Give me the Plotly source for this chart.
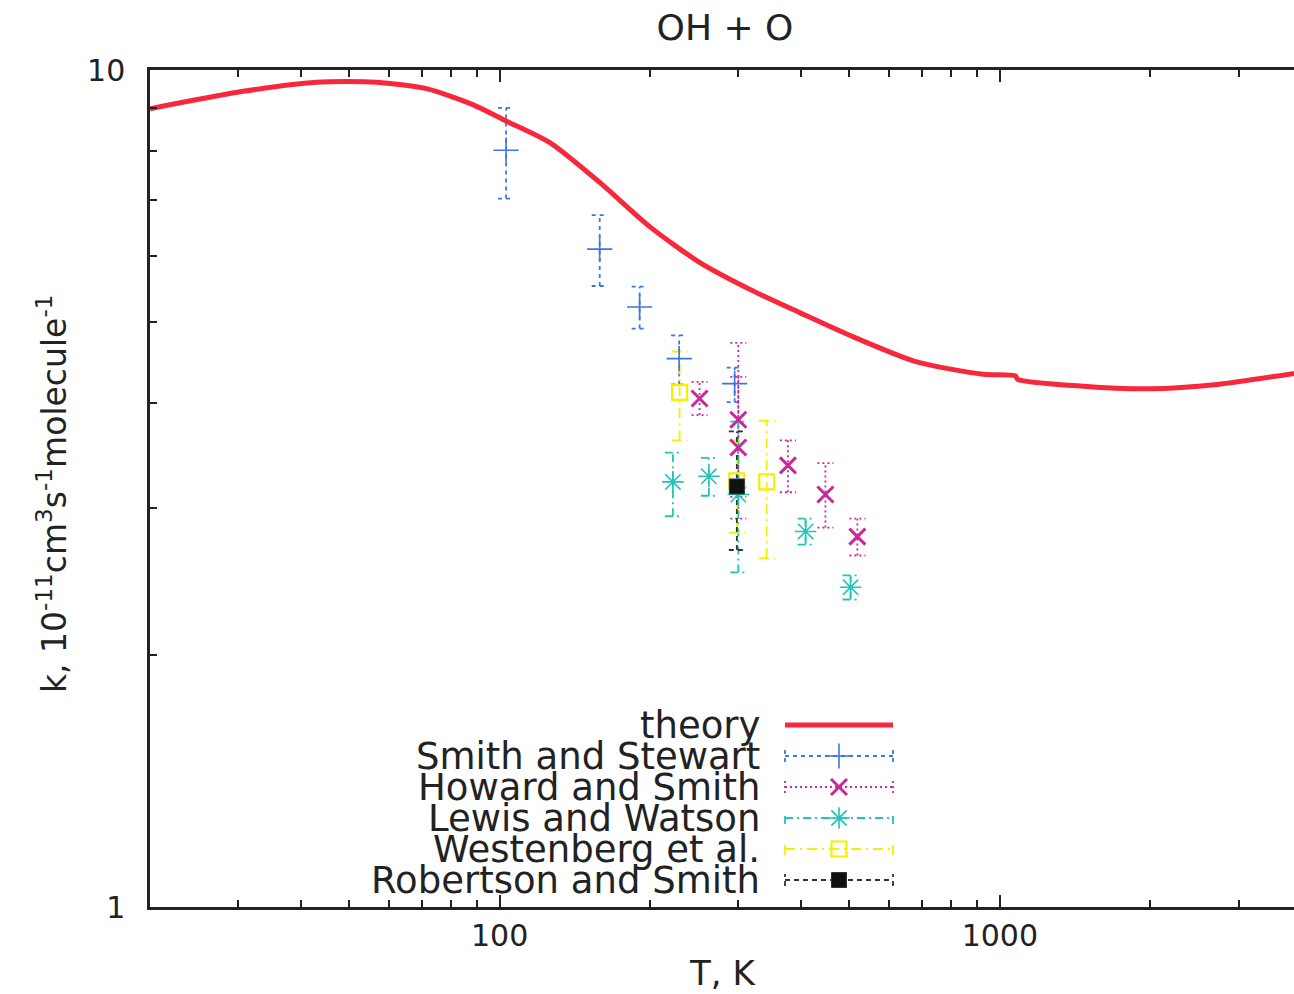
import math
import plotly.graph_objects as go

# ---------------- data ----------------
theory_T = [20, 30.7, 43, 56.7, 71.4, 88.4, 103, 126, 158.5, 199.5, 251, 316, 398, 501,
            682, 925, 1075, 1085, 1466, 1995, 2716, 3873]
theory_k = [8.99, 9.43, 9.67, 9.67, 9.50, 9.09, 8.69, 8.19, 7.34, 6.50, 5.89, 5.47, 5.13, 4.82,
            4.48, 4.33, 4.31, 4.27, 4.19, 4.16, 4.21, 4.34]

smith_T = [103, 158.5, 190.5, 228.5, 295]
smith_k = [8.02, 6.11, 5.21, 4.52, 4.22]
smith_hi = [9.01, 6.71, 5.51, 4.82, 4.41]
smith_lo = [7.02, 5.52, 4.91, 4.21, 4.01]

howard_T = [251, 300, 300, 377, 448, 519]
howard_k = [4.05, 3.82, 3.54, 3.37, 3.11, 2.77]
howard_hi = [4.24, 4.72, 4.30, 3.61, 3.39, 2.91]
howard_lo = [3.87, 3.09, 2.91, 3.13, 2.84, 2.63]

lewis_T = [222, 262, 300, 409, 503]
lewis_k = [3.22, 3.27, 3.11, 2.81, 2.41]
lewis_hi = [3.49, 3.44, 3.80, 2.91, 2.49]
lewis_lo = [2.93, 3.10, 2.51, 2.71, 2.33]

westen_T = [229, 298, 342]
westen_k = [4.12, 3.23, 3.22]
westen_hi = [4.61, 3.61, 3.81]
westen_lo = [3.61, 2.80, 2.61]

robert_T = [298]
robert_k = [3.18]
robert_hi = [3.70]
robert_lo = [2.67]

series_names = ["theory", "Smith and Stewart", "Howard and Smith", "Lewis and Watson",
                "Westenberg et al.", "Robertson and Smith"]
x_ticks = [100, 1000]
x_ticktext = ["100", "1000"]
x_minor = [30, 40, 50, 60, 70, 80, 90, 200, 300, 400, 500, 600, 700, 800, 900, 2000, 3000]
y_ticks = [1, 10]
y_ticktext = ["1", "10"]
y_minor = [2, 3, 4, 5, 6, 7, 8, 9]

# ---------------- styling ----------------
FONT = "DejaVu Sans"
TXT = "#222222"
RED = "#f8283c"
BLUE = "#3a78e0"
MAG = "#c8289a"
CYAN = "#22c4b8"
YEL = "#f4f000"
DARK = "#333333"

CAPF = 10 ** (8 / 500.0)  # half cap width on log axis

exp_series = [
    dict(name=series_names[1], T=smith_T, k=smith_k, lo=smith_lo, hi=smith_hi, color=BLUE,
         symbol="cross-thin-open", size=18, lw=1.6, dash="4px,4px", fill=BLUE),
    dict(name=series_names[2], T=howard_T, k=howard_k, lo=howard_lo, hi=howard_hi, color=MAG,
         symbol="x-thin-open", size=16, lw=3, dash="2px,3px", fill=MAG),
    dict(name=series_names[3], T=lewis_T, k=lewis_k, lo=lewis_lo, hi=lewis_hi, color=CYAN,
         symbol="asterisk-open", size=18, lw=1.6, dash="8px,4px,2px,4px", fill=CYAN),
    dict(name=series_names[4], T=westen_T, k=westen_k, lo=westen_lo, hi=westen_hi, color=YEL,
         symbol="square-open", size=15, lw=2.2, dash="10px,5px,2px,5px", fill=YEL),
    dict(name=series_names[5], T=robert_T, k=robert_k, lo=robert_lo, hi=robert_hi, color=DARK,
         symbol="square", size=15, lw=1, dash="5px,4px", fill="#111111"),
]

fig = go.Figure()

def bar_segments(T, lo, hi):
    xs, ys = [], []
    for t, l, h in zip(T, lo, hi):
        xs += [t, t, None, t / CAPF, t * CAPF, None, t / CAPF, t * CAPF, None]
        ys += [l, h, None, l, l, None, h, h, None]
    return xs, ys

for s in exp_series:
    bx, by = bar_segments(s["T"], s["lo"], s["hi"])
    fig.add_trace(go.Scatter(x=bx, y=by, mode="lines", showlegend=False, hoverinfo="skip",
                             line=dict(color=s["color"], width=1.8, dash=s["dash"])))
for s in exp_series:
    fig.add_trace(go.Scatter(x=s["T"], y=s["k"], mode="markers", name=s["name"], showlegend=False,
                             marker=dict(symbol=s["symbol"], size=s["size"], color=s["fill"],
                                         line=dict(color=s["color"], width=s["lw"]))))

fig.add_trace(go.Scatter(x=theory_T, y=theory_k, mode="lines", name=series_names[0],
                         showlegend=False,
                         line=dict(color=RED, width=5, shape="spline", smoothing=0.7)))

# ---------------- hand-drawn legend (text left, sample right) ----------------
PL, PR, PT, PB = 150, 1294, 70, 907
def px2x(px):
    return (px - PL) / (PR - PL)
def py2y(py):
    return (PB - py) / (PB - PT)

row_py = [725, 756, 787, 818, 849, 880]
text_right = px2x(762)
samp_x0, samp_x1 = px2x(785), px2x(893)
samp_xc = (samp_x0 + samp_x1) / 2
cap_h = 6 / (PB - PT)

annotations = []
for i, name in enumerate(series_names):
    yy = py2y(row_py[i])
    annotations.append(dict(x=text_right, y=yy, xref="paper", yref="paper", text=name,
                            showarrow=False, xanchor="right", yanchor="middle",
                            font=dict(family=FONT, size=37, color=TXT)))

fig.add_trace(go.Scatter(x=[samp_x0, samp_x1], y=[py2y(row_py[0])] * 2, xaxis="x2", yaxis="y2",
                         mode="lines", showlegend=False, hoverinfo="skip",
                         line=dict(color=RED, width=5)))
for i, s in enumerate(exp_series):
    yy = py2y(row_py[i + 1])
    fig.add_trace(go.Scatter(
        x=[samp_x0, samp_x1, None, samp_x0, samp_x0, None, samp_x1, samp_x1],
        y=[yy, yy, None, yy - cap_h, yy + cap_h, None, yy - cap_h, yy + cap_h],
        xaxis="x2", yaxis="y2", mode="lines", showlegend=False, hoverinfo="skip",
        line=dict(color=s["color"], width=1.8, dash=s["dash"])))
    fig.add_trace(go.Scatter(x=[samp_xc], y=[yy], xaxis="x2", yaxis="y2", mode="markers",
                             showlegend=False, hoverinfo="skip",
                             marker=dict(symbol=s["symbol"], size=s["size"], color=s["fill"],
                                         line=dict(color=s["color"], width=s["lw"]))))

# axis titles
annotations.append(dict(x=0.5, y=py2y(973), xref="paper", yref="paper", text="T, K",
                        showarrow=False, xanchor="center", yanchor="middle",
                        font=dict(family=FONT, size=34, color=TXT)))
annotations.append(dict(x=px2x(52), y=py2y(494), xref="paper", yref="paper",
                        text="k, 10<sup>-11</sup>cm<sup>3</sup>s<sup>-1</sup>molecule<sup>-1</sup>",
                        textangle=-90, showarrow=False, xanchor="center", yanchor="middle",
                        font=dict(family=FONT, size=33, color=TXT)))

fig.update_layout(
    width=1294, height=994,
    margin=dict(l=PL, r=1294 - PR, t=PT, b=994 - PB),
    paper_bgcolor="white", plot_bgcolor="white",
    title=dict(text="OH + O", x=725 / 1294, xanchor="center",
               y=1 - 27 / 994, yanchor="middle",
               font=dict(family=FONT, size=36, color=TXT)),
    showlegend=False,
    annotations=annotations,
    xaxis=dict(type="log", range=[math.log10(20), math.log10(3873)],
               tickvals=x_ticks, ticktext=x_ticktext, ticks="inside", ticklen=12, tickwidth=1.5,
               tickcolor=TXT, showline=True, linecolor=TXT, linewidth=2.5,
               mirror="ticks", showgrid=False, zeroline=False, ticklabelstandoff=0,
               tickfont=dict(family=FONT, size=30, color=TXT),
               minor=dict(tickvals=x_minor, ticks="inside", ticklen=7, tickwidth=1.5,
                          tickcolor=TXT, showgrid=False)),
    yaxis=dict(type="log", range=[0, 1],
               tickvals=y_ticks, ticktext=y_ticktext, ticks="inside", ticklen=12, tickwidth=1.5,
               tickcolor=TXT, showline=True, linecolor=TXT, linewidth=2.5,
               mirror=False, showgrid=False, zeroline=False, ticklabelstandoff=16,
               tickfont=dict(family=FONT, size=30, color=TXT),
               minor=dict(tickvals=y_minor, ticks="inside", ticklen=7, tickwidth=1.5,
                          tickcolor=TXT, showgrid=False)),
    xaxis2=dict(overlaying="x", range=[0, 1], visible=False, fixedrange=True),
    yaxis2=dict(overlaying="y", range=[0, 1], visible=False, fixedrange=True),
)

fig.write_html("out.html", config={"displayModeBar": False},
               post_script="document.body.style.margin='0';document.body.style.overflow='hidden';")
